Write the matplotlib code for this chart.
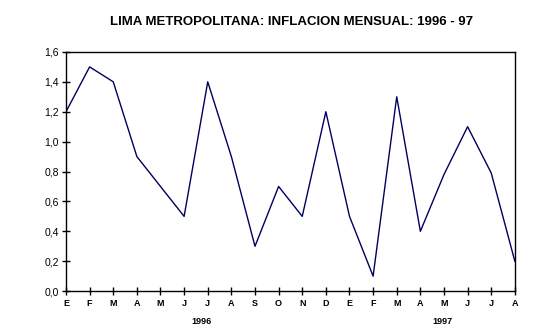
import matplotlib.pyplot as plt
from matplotlib.transforms import blended_transform_factory

# Monthly inflation, Lima Metropolitana, Jan 1996 - Aug 1997 (%)
months = ["E", "F", "M", "A", "M", "J", "J", "A", "S", "O", "N", "D",
          "E", "F", "M", "A", "M", "J", "J", "A"]
inflation = [1.2, 1.5, 1.4, 0.9, 0.7, 0.5, 1.4, 0.9, 0.3, 0.7, 0.5, 1.2,
             0.5, 0.1, 1.3, 0.4, 0.78, 1.1, 0.79, 0.2]
year_labels = ["1996", "1997"]
year_positions = [5.74, 15.94]
y_ticks = [0.0, 0.2, 0.4, 0.6, 0.8, 1.0, 1.2, 1.4, 1.6]

plt.rcParams["font.family"] = ["Liberation Sans", "DejaVu Sans"]

fig = plt.figure(figsize=(5.56, 3.35), dpi=100)
ax = fig.add_axes([0.1187, 0.131, 0.8073, 0.714])

x = list(range(len(months)))
ax.plot(x, inflation, color="#000060", linewidth=1.0)

ax.set_xlim(0, len(months) - 1)
ax.set_ylim(0, 1.6)
ax.set_xticks(x)
ax.set_xticklabels(months, fontsize=6.5, fontweight="bold")
ax.set_yticks(y_ticks)
ax.set_yticklabels([f"{v:.1f}".replace(".", ",") for v in y_ticks], fontsize=7.5)
ax.tick_params(axis="both", direction="inout", length=6, width=1, color="black")
ax.tick_params(axis="x", pad=3)
ax.tick_params(axis="y", pad=2)
for spine in ax.spines.values():
    spine.set_linewidth(1.0)

trans = blended_transform_factory(ax.transData, fig.transFigure)
for label, pos in zip(year_labels, year_positions):
    ax.text(pos, (335 - 322) / 335, label, transform=trans, ha="center",
            va="center", fontsize=6.5, fontweight="bold")

fig.text(0.524, 0.934, "LIMA METROPOLITANA: INFLACION MENSUAL: 1996 - 97",
         ha="center", va="center", fontsize=9.5, fontweight="bold")

fig.savefig("out.png", dpi=100)
